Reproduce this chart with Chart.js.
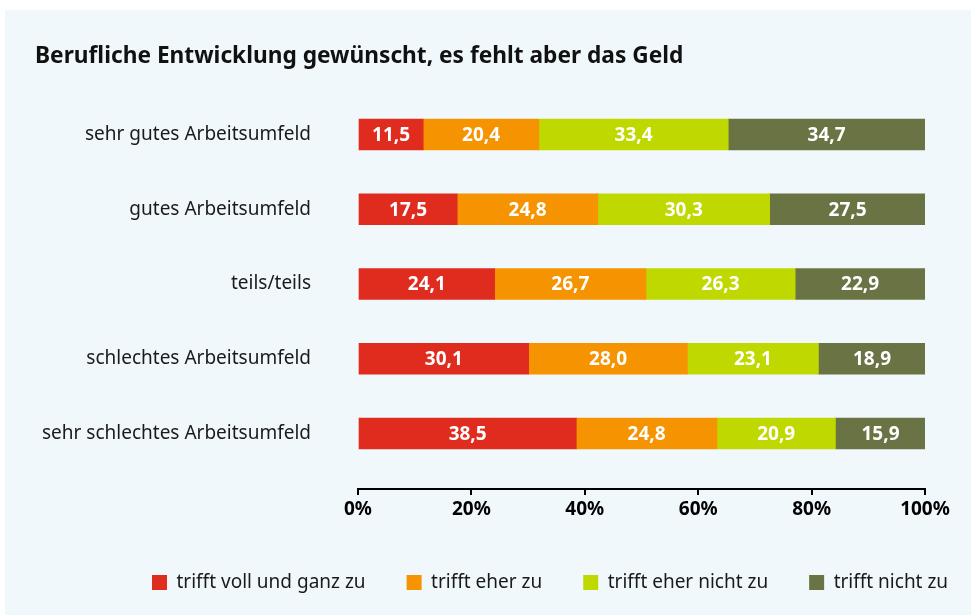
<!DOCTYPE html>
<html>
<head>
<meta charset="utf-8">
<script src="https://cdn.jsdelivr.net/npm/chart.js@4"></script>
<style>
  html, body { margin: 0; padding: 0; background: #ffffff; }
  #wrap { width: 971px; height: 615px; position: relative; }
</style>
</head>
<body>
<div id="wrap"><canvas id="c" width="971" height="615"></canvas></div>
<script>
const title = 'Berufliche Entwicklung gewünscht, es fehlt aber das Geld';
const categories = ['sehr gutes Arbeitsumfeld', 'gutes Arbeitsumfeld', 'teils/teils', 'schlechtes Arbeitsumfeld', 'sehr schlechtes Arbeitsumfeld'];
const seriesNames = ['trifft voll und ganz zu', 'trifft eher zu', 'trifft eher nicht zu', 'trifft nicht zu'];
const trifftVoll = [11.5, 17.5, 24.1, 30.1, 38.5];
const trifftEher = [20.4, 24.8, 26.7, 28.0, 24.8];
const trifftEherNicht = [33.4, 30.3, 26.3, 23.1, 20.9];
const trifftNicht = [34.7, 27.5, 22.9, 18.9, 15.9];
const xTicks = [0, 20, 40, 60, 80, 100];
const colors = ['#e02b1f', '#f59400', '#bfd800', '#6a7343'];

const FONT = "'Noto Sans', 'Open Sans', sans-serif";
const LEGEND_PAD = 41;

const series = [trifftVoll, trifftEher, trifftEherNicht, trifftNicht];
const datasets = series.map((vals, s) => ({
  label: seriesNames[s],
  data: vals.map((v, i) => ({ x: v, y: i })),
  backgroundColor: colors[s],
  borderWidth: 0,
  barThickness: 31
}));

const panelBg = {
  id: 'panelBg',
  beforeDraw(chart) {
    const ctx = chart.ctx;
    ctx.save();
    ctx.fillStyle = '#f1f8fc';
    ctx.fillRect(5, 10, chart.width - 5, chart.height - 10);
    ctx.restore();
  }
};

const valueLabels = {
  id: 'valueLabels',
  afterDatasetsDraw(chart) {
    const ctx = chart.ctx;
    ctx.save();
    ctx.fillStyle = '#ffffff';
    ctx.font = "bold 19px " + FONT;
    ctx.textAlign = 'center';
    ctx.textBaseline = 'middle';
    chart.data.datasets.forEach((ds, di) => {
      const meta = chart.getDatasetMeta(di);
      meta.data.forEach((el, i) => {
        const p = el.getCenterPoint();
        const v = ds.data[i].x;
        ctx.fillText(v.toFixed(1).replace('.', ','), p.x, p.y + 1);
      });
    });
    ctx.restore();
  }
};

const legendShift = {
  id: 'legendShift',
  afterLayout(chart) {
    if (chart.legend) {
      chart.legend.left = 152 - LEGEND_PAD;
      chart.legend.right = chart.width + 300;
    }
  }
};

new Chart(document.getElementById('c'), {
  type: 'bar',
  data: { datasets },
  plugins: [panelBg, valueLabels, legendShift],
  options: {
    responsive: false,
    animation: false,
    indexAxis: 'y',
    layout: { padding: { left: 35, right: 46, top: 0, bottom: 13 } },
    scales: {
      x: {
        type: 'linear',
        stacked: true,
        min: 0,
        max: 100,
        afterFit(scale) { scale.height = 43; scale.paddingLeft = 0; scale.paddingRight = 0; },
        afterBuildTicks(scale) { scale.ticks = xTicks.map(v => ({ value: v })); },
        grid: { drawOnChartArea: false, drawTicks: true, tickLength: 6, color: '#000000', lineWidth: 2 },
        border: { display: true, color: '#000000', width: 2 },
        ticks: {
          padding: 3,
          color: '#000000',
          font: { family: FONT, size: 19, weight: 'bold' },
          callback: v => v + '%'
        }
      },
      y: {
        type: 'linear',
        stacked: true,
        reverse: true,
        offset: false,
        min: -0.5,
        max: 4.743,
        afterFit(scale) { scale.width = 323; },
        afterBuildTicks(scale) { scale.ticks = categories.map((c, i) => ({ value: i })); },
        grid: { display: false, drawTicks: false, offset: false },
        border: { display: false },
        ticks: {
          padding: 47,
          color: '#1a1a1a',
          font: { family: FONT, size: 19 },
          callback: v => categories[v]
        }
      }
    },
    plugins: {
      title: {
        display: true,
        text: title,
        align: 'start',
        color: '#111111',
        font: { family: FONT, size: 22.7, weight: 'bold', lineHeight: 1.2 },
        padding: { top: 43.4, bottom: 26.5 }
      },
      legend: {
        position: 'bottom',
        align: 'start',
        labels: {
          boxWidth: 15,
          boxHeight: 15,
          padding: LEGEND_PAD,
          color: '#1a1a1a',
          font: { family: FONT, size: 19 }
        }
      },
      tooltip: { enabled: false }
    }
  }
});
</script>
</body>
</html>
